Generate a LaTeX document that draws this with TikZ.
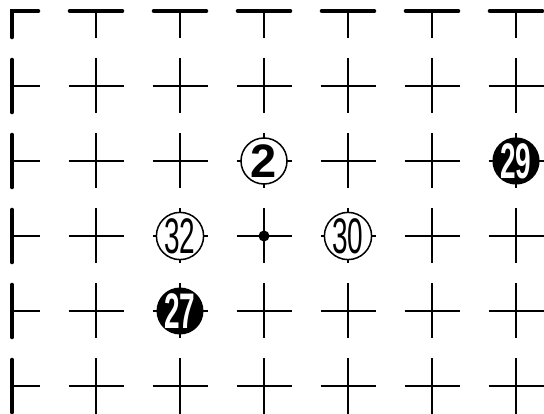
\documentclass[tikz,border=0pt]{standalone}
\usepackage{fontspec}
\newfontfamily\numfont[FakeStretch=0.56]{Liberation Sans}
\newfontfamily\plainnumfont{Liberation Sans}

\begin{document}
\begin{tikzpicture}[
   x=84pt,y=-75pt,
   arm/.style={line width=2pt},
   edge/.style={line width=4.6pt,line cap=round},
   wstone/.style={circle,draw,line width=1.5pt,fill=white,minimum size=46pt,inner sep=0pt,
                  font=\numfont\fontsize{50}{50}\selectfont},
   wstonebold/.style={wstone,font=\plainnumfont\bfseries\fontsize{47}{47}\selectfont},
   bstone/.style={circle,fill=black,text=white,minimum size=47pt,inner sep=0pt,
                  font=\numfont\bfseries\fontsize{50}{50}\selectfont},
   hoshi/.style={circle,fill=black,inner sep=0pt,minimum size=11pt}
 ]
  \path[use as bounding box] (-12pt,11pt) rectangle (532pt,-403pt);

  % inner points
  \foreach \c in {1,...,6}
    \foreach \r in {1,...,5}
      \draw[arm] ([xshift=-27.5pt]\c,\r) -- ([xshift=27.5pt]\c,\r)
                 ([yshift=27.5pt]\c,\r) -- ([yshift=-27.5pt]\c,\r);

  % top edge
  \foreach \c in {1,...,6} {
    \draw[arm] (\c,0) -- ([yshift=-27.5pt]\c,0);
    \draw[edge] ([xshift=-26pt]\c,0) -- ([xshift=26pt]\c,0);
  }

  % left edge
  \foreach \r in {1,...,5} {
    \draw[arm] (0,\r) -- ([xshift=27.5pt]0,\r);
    \draw[edge] ([yshift=26pt]0,\r) -- ([yshift=-26pt]0,\r);
  }
  \draw[edge] ([yshift=-26pt]0,0) -- (0,0) -- ([xshift=26pt]0,0);

  % stones
  \node[wstonebold] (m2) at (3,2) {2};
  \node[bstone] (m29) at (6,2) {29};
  \node[wstone] (m32) at (2,3) {32};
  \node[hoshi] (star) at (3,3) {};
  \node[wstone] (m30) at (4,3) {30};
  \node[bstone] (m27) at (2,4) {27};
\end{tikzpicture}
\end{document}
